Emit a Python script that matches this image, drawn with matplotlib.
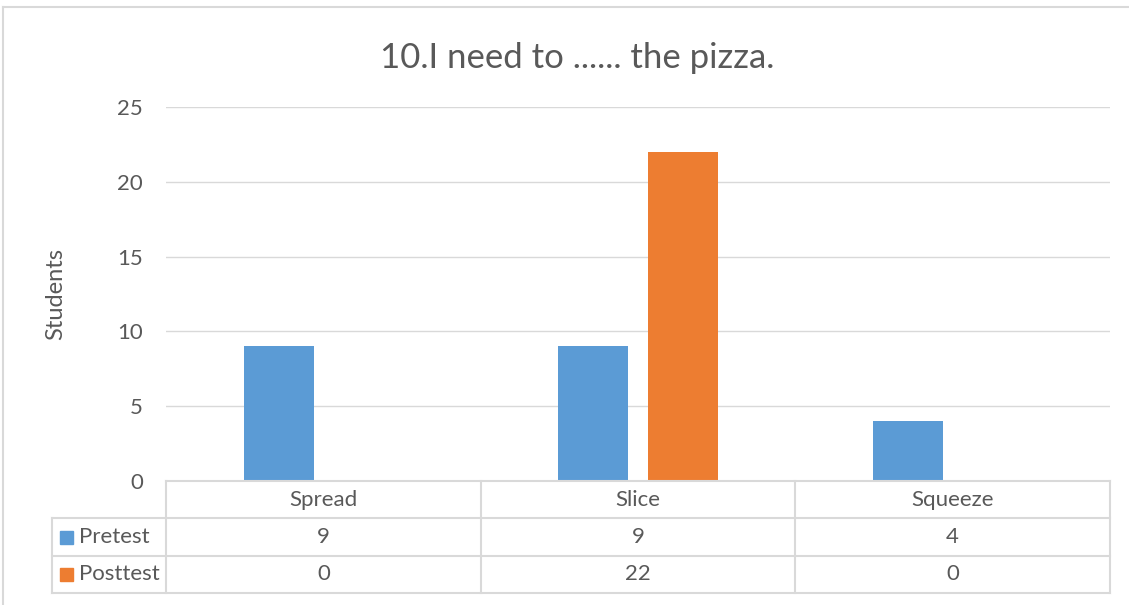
import matplotlib
matplotlib.use("Agg")
import matplotlib.pyplot as plt
from matplotlib.lines import Line2D
from matplotlib.patches import Rectangle
import numpy as np

categories = ["Spread", "Slice", "Squeeze"]
series_names = ["Pretest", "Posttest"]
pretest = [9, 9, 4]
posttest = [0, 22, 0]
colors = ["#5B9BD5", "#ED7D31"]
title = "10.I need to ...... the pizza."
ylabel = "Students"
yticks = [0, 5, 10, 15, 20, 25]

W, H = 1129, 605
plt.rcParams['font.family'] = ['Lato', 'DejaVu Sans']
TXT = "#595959"
GRID = "#D9D9D9"
FS = 16

fig = plt.figure(figsize=(W / 100, H / 100), dpi=100)

# plot area in pixel coords
pl, pr, pt, pb = 166, 1110, 107, 481
ax = fig.add_axes([pl / W, 1 - pb / H, (pr - pl) / W, (pb - pt) / H])

x = np.arange(len(categories))
bw = 0.2225
off = 0.1415
ax.bar(x - off, pretest, width=bw, color=colors[0], zorder=3)
ax.bar(x + off, posttest, width=bw, color=colors[1], zorder=3)
ax.set_xlim(-0.5, len(categories) - 0.5)
ax.set_ylim(0, 25)
ax.set_yticks(yticks)
ax.set_yticklabels([str(t) for t in yticks], fontsize=FS, color=TXT)
ax.tick_params(axis='y', length=0, pad=16.5)
ax.set_xticks([])
ax.grid(axis='y', color=GRID, linewidth=1, zorder=0)
for s in ax.spines.values():
    s.set_visible(False)
ax.set_ylabel(ylabel, fontsize=FS + 1, color=TXT)
ax.yaxis.set_label_coords((56 - pl) / (pr - pl), 0.5)
ax.yaxis.label.set_verticalalignment('center')

# overlay for border in pixel coordinates
ov = fig.add_axes([0, 0, 1, 1], zorder=-1)
ov.set_xlim(0, W)
ov.set_ylim(H, 0)
ov.axis('off')
ov.add_line(Line2D([3, W], [7, 7], color=GRID, lw=1.5))
ov.add_line(Line2D([3, 3], [7, H], color=GRID, lw=1.5))

ov2 = fig.add_axes([0, 0, 1, 1], zorder=5)
ov2.set_xlim(0, W)
ov2.set_ylim(H, 0)
ov2.axis('off')
ov2.patch.set_alpha(0)

rows_y = [481, 518, 556, 593]
col_x = [pl + (pr - pl) * i / len(categories) for i in range(len(categories) + 1)]
tl = 52
ov2.add_line(Line2D([pl, pr], [rows_y[0], rows_y[0]], color=GRID, lw=1.5))
for yy in rows_y[1:]:
    ov2.add_line(Line2D([tl, pr], [yy, yy], color=GRID, lw=1.5))
ov2.add_line(Line2D([tl, tl], [rows_y[1], rows_y[3]], color=GRID, lw=1.5))
for xx in col_x:
    ov2.add_line(Line2D([xx, xx], [rows_y[0], rows_y[3]], color=GRID, lw=1.5))

for i, c in enumerate(categories):
    cx = (col_x[i] + col_x[i + 1]) / 2
    ov2.text(cx, (rows_y[0] + rows_y[1]) / 2, c, ha='center', va='center', fontsize=FS, color=TXT)
for r, (name, vals, col) in enumerate(zip(series_names, [pretest, posttest], colors)):
    ymid = (rows_y[r + 1] + rows_y[r + 2]) / 2
    ov2.add_patch(Rectangle((60, ymid - 6.5), 13, 13, color=col))
    ov2.text(79, ymid, name, ha='left', va='center', fontsize=FS, color=TXT)
    for i, v in enumerate(vals):
        cx = (col_x[i] + col_x[i + 1]) / 2
        ov2.text(cx, ymid, str(v), ha='center', va='center', fontsize=FS, color=TXT)

ov2.text((377 + 778) / 2, 58, title, ha='center', va='center', fontsize=25, color=TXT)

fig.savefig("out.png", dpi=100)
